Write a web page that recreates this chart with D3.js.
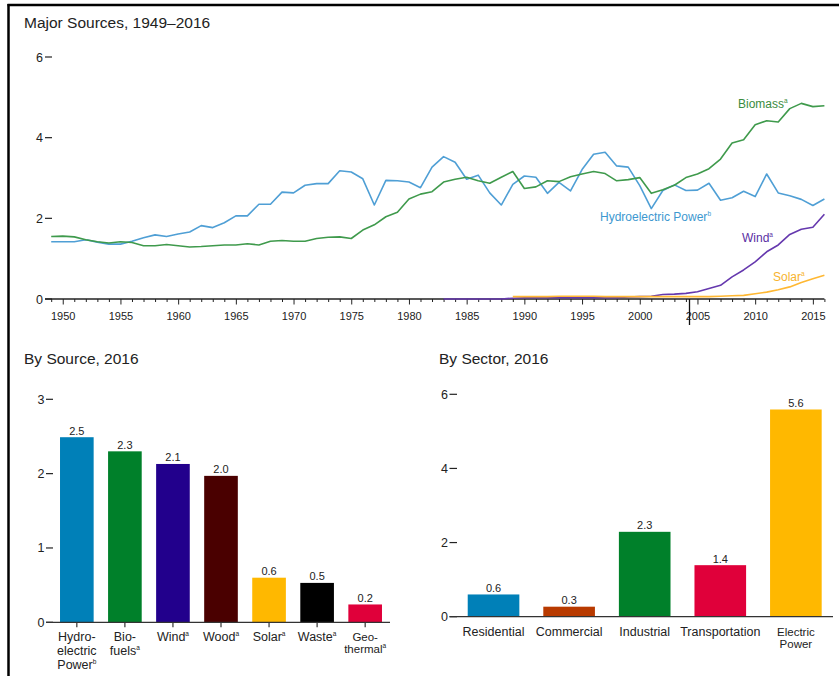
<!DOCTYPE html>
<html>
<head>
<meta charset="utf-8">
<script src="https://cdn.jsdelivr.net/npm/d3@7"></script>
<style>
  body { margin: 0; background: #fff; }
  text { font-family: "Liberation Sans", Arial, sans-serif; fill: #222; }
</style>
</head>
<body>
<div id="chart"></div>
<script>
// ---- data ----
var years = d3.range(1949, 2017);
var hydro = [1.42, 1.42, 1.42, 1.47, 1.41, 1.36, 1.36, 1.43, 1.52, 1.59,
             1.55, 1.61, 1.66, 1.82, 1.77, 1.89, 2.06, 2.06, 2.35, 2.35,
             2.65, 2.63, 2.82, 2.86, 2.86, 3.18, 3.15, 2.98, 2.33, 2.94,
             2.93, 2.90, 2.76, 3.27, 3.53, 3.39, 2.97, 3.07, 2.63, 2.33,
             2.84, 3.05, 3.02, 2.62, 2.89, 2.68, 3.21, 3.59, 3.64, 3.30,
             3.27, 2.81, 2.24, 2.69, 2.83, 2.69, 2.70, 2.87, 2.45, 2.51,
             2.67, 2.54, 3.10, 2.63, 2.56, 2.47, 2.32, 2.48];
var biomass = [1.55, 1.56, 1.54, 1.47, 1.42, 1.39, 1.42, 1.40, 1.32, 1.32,
               1.35, 1.32, 1.29, 1.30, 1.32, 1.34, 1.34, 1.37, 1.34, 1.43,
               1.45, 1.43, 1.43, 1.50, 1.53, 1.54, 1.50, 1.71, 1.84, 2.04,
               2.15, 2.48, 2.60, 2.66, 2.90, 2.97, 3.02, 2.93, 2.87, 3.02,
               3.16, 2.74, 2.78, 2.93, 2.91, 3.03, 3.10, 3.16, 3.11, 2.93,
               2.96, 3.01, 2.62, 2.71, 2.82, 3.01, 3.10, 3.23, 3.47, 3.87,
               3.95, 4.32, 4.42, 4.39, 4.72, 4.85, 4.77, 4.79];
var windYears = d3.range(1983, 2017);
var wind = [0.00, 0.00, 0.00, 0.00, 0.00, 0.00, 0.02, 0.03, 0.03, 0.03,
            0.03, 0.04, 0.03, 0.03, 0.03, 0.03, 0.05, 0.06, 0.07, 0.11,
            0.12, 0.14, 0.18, 0.26, 0.34, 0.55, 0.72, 0.92, 1.17, 1.34,
            1.60, 1.73, 1.78, 2.10];
var solarYears = d3.range(1989, 2017);
var solar = [0.06, 0.06, 0.06, 0.06, 0.07, 0.07, 0.07, 0.07, 0.06, 0.06,
             0.06, 0.06, 0.06, 0.06, 0.06, 0.06, 0.06, 0.06, 0.07, 0.08,
             0.09, 0.13, 0.17, 0.23, 0.30, 0.41, 0.50, 0.59];
var topTicks = [0, 2, 4, 6];

var sources = ["Hydro-|electric|Power", "Bio-|fuels", "Wind", "Wood", "Solar", "Waste", "Geo-|thermal"];
var sourceNotes = ["b", "a", "a", "a", "a", "a", "a"];
var sourceValues = [2.49, 2.30, 2.13, 1.97, 0.60, 0.53, 0.24];
var sourceColors = ["#0080b8", "#00802a", "#22008c", "#4a0000", "#ffb800", "#000000", "#e0003a"];
var sourceTicks = [0, 1, 2, 3];

var sectors = ["Residential", "Commercial", "Industrial", "Transportation", "Electric|Power"];
var sectorValues = [0.60, 0.27, 2.29, 1.39, 5.59];
var sectorColors = ["#0080b8", "#b83a00", "#00802a", "#e0003a", "#ffb800"];
var sectorTicks = [0, 2, 4, 6];

var W = 839, H = 676;
var svg = d3.select("#chart").append("svg").attr("width", W).attr("height", H);

// frame
svg.append("line").attr("x1", 7.5).attr("y1", 5).attr("x2", W).attr("y2", 5)
   .attr("stroke", "#000").attr("stroke-width", 2.5);
svg.append("line").attr("x1", 8.5).attr("y1", 4).attr("x2", 8.5).attr("y2", H)
   .attr("stroke", "#000").attr("stroke-width", 2.5);

function title(x, y, s) {
  svg.append("text").attr("x", x).attr("y", y).attr("font-size", "15.5px").text(s);
}

// y tick labels drawn as "6–"
function yTicks(scale, ticks, xText, x1, x2) {
  ticks.forEach(function(t) {
    svg.append("text").attr("x", xText).attr("y", scale(t) + 4.5)
       .attr("text-anchor", "end").attr("font-size", "12.5px").text(t);
    svg.append("line").attr("x1", x1).attr("x2", x2)
       .attr("y1", scale(t)).attr("y2", scale(t))
       .attr("stroke", "#222").attr("stroke-width", 1.2);
  });
}

// ---- top chart: major sources ----
title(24, 28, "Major Sources, 1949\u20132016");

var x = d3.scaleLinear().domain([1949, 2016]).range([51.2, 824.4]);
var y = d3.scaleLinear().domain([0, 6]).range([299, 57]);

yTicks(y, topTicks, 43, 45, 52);

var xAxis = d3.axisBottom(x)
  .tickValues(years)
  .tickSize(3)
  .tickFormat(function(d) { return d % 5 === 0 ? d : ""; });

var gx = svg.append("g").attr("transform", "translate(0," + y(0) + ")").call(xAxis);
gx.select(".domain").remove();
gx.selectAll(".tick line")
  .attr("stroke", "#222")
  .attr("y2", function(d) { return d % 5 === 0 ? 5.5 : 3; });
gx.selectAll(".tick text")
  .attr("y", 13)
  .attr("font-size", "11px")
  .attr("font-family", "Liberation Sans, Arial, sans-serif")
  .attr("fill", "#222");
svg.append("line").attr("x1", 45).attr("x2", x(2016))
   .attr("y1", y(0)).attr("y2", y(0))
   .attr("stroke", "#222").attr("stroke-width", 1.3);

function drawSeries(xs, vals, color) {
  var line = d3.line()
    .x(function(d, i) { return x(xs[i]); })
    .y(function(d) { return y(d); });
  svg.append("path").datum(vals)
     .attr("fill", "none").attr("stroke", color)
     .attr("stroke-width", 1.6).attr("stroke-linejoin", "round")
     .attr("d", line);
}

drawSeries(years, hydro, "#4f9fd5");
drawSeries(years, biomass, "#3f9a4c");
drawSeries(windYears, wind, "#6538ae");
drawSeries(solarYears, solar, "#ffb833");

function seriesLabel(xp, yp, s, note, color) {
  var t = svg.append("text").attr("x", xp).attr("y", yp)
    .attr("font-size", "12px").style("fill", color).text(s);
  t.append("tspan").attr("font-size", "6.5px").attr("dy", -5).style("fill", color).text(note);
}
seriesLabel(738, 108, "Biomass", "a", "#3a8c3e");
seriesLabel(600, 221, "Hydroelectric Power", "b", "#3d98d0");
seriesLabel(742, 242, "Wind", "a", "#5a2ea3");
seriesLabel(773, 281, "Solar", "a", "#f7b32e");

// stray cursor mark over the 2005 label
svg.append("line").attr("x1", 689.5).attr("x2", 689.5).attr("y1", 299).attr("y2", 325)
   .attr("stroke", "#111").attr("stroke-width", 1.3);

// ---- bar charts ----
function multiLabel(cx, y0, label, note, gap, size) {
  var lines = label.split("|");
  var t = svg.append("text").attr("text-anchor", "middle").attr("font-size", size);
  lines.forEach(function(l, i) {
    t.append("tspan").attr("x", cx).attr("y", y0 + i * gap).text(l);
    if (i === lines.length - 1 && note) {
      t.append("tspan").attr("font-size", "6.5px").attr("dy", -5).text(note);
    }
  });
}

// by source
title(24, 364, "By Source, 2016");
var xb = d3.scaleBand().domain(sources).range([48, 394]).paddingInner(0.3).paddingOuter(0.25);
var yb = d3.scaleLinear().domain([0, 3]).range([622.3, 399.3]);

yTicks(yb, sourceTicks, 44.5, 46, 53);

svg.selectAll("rect.src")
  .data(sources)
  .enter()
  .append("rect")
  .attr("class", "src")
  .attr("x", function(d) { return xb(d); })
  .attr("y", function(d, i) { return yb(sourceValues[i]); })
  .attr("width", xb.bandwidth())
  .attr("height", function(d, i) { return yb(0) - yb(sourceValues[i]); })
  .attr("fill", function(d, i) { return sourceColors[i]; });

svg.append("line").attr("x1", 46).attr("x2", 390)
   .attr("y1", yb(0)).attr("y2", yb(0))
   .attr("stroke", "#333").attr("stroke-width", 1.3);

sources.forEach(function(s, i) {
  var cx = xb(s) + xb.bandwidth() / 2;
  svg.append("line").attr("x1", cx).attr("x2", cx)
     .attr("y1", yb(0)).attr("y2", yb(0) + 5)
     .attr("stroke", "#333").attr("stroke-width", 1.2);
  svg.append("text").attr("x", cx).attr("y", yb(sourceValues[i]) - 2.5)
     .attr("text-anchor", "middle").attr("font-size", "11px")
     .text(d3.format(".1f")(sourceValues[i]));
  var gap = s === "Geo-|thermal" ? 11.5 : 14;
  var size = s === "Geo-|thermal" ? "11.5px" : "12.5px";
  multiLabel(cx, 641, s, sourceNotes[i], gap, size);
});

// by sector
title(439, 364, "By Sector, 2016");
var xs = d3.scaleBand().domain(sectors).range([452.6, 836.8]).paddingInner(0.317).paddingOuter(0.2);
var ys = d3.scaleLinear().domain([0, 6]).range([616.7, 394.3]);

yTicks(ys, sectorTicks, 448, 449.5, 457);

svg.selectAll("rect.sec")
  .data(sectors)
  .enter()
  .append("rect")
  .attr("class", "sec")
  .attr("x", function(d) { return xs(d); })
  .attr("y", function(d, i) { return ys(sectorValues[i]); })
  .attr("width", xs.bandwidth())
  .attr("height", function(d, i) { return ys(0) - ys(sectorValues[i]); })
  .attr("fill", function(d, i) { return sectorColors[i]; });

svg.append("line").attr("x1", 449.5).attr("x2", 833)
   .attr("y1", ys(0)).attr("y2", ys(0))
   .attr("stroke", "#333").attr("stroke-width", 1.3);

sectors.forEach(function(s, i) {
  var cx = xs(s) + xs.bandwidth() / 2;
  svg.append("text").attr("x", cx).attr("y", ys(sectorValues[i]) - 2.5)
     .attr("text-anchor", "middle").attr("font-size", "11px")
     .text(d3.format(".1f")(sectorValues[i]));
  var size = s === "Electric|Power" ? "11.5px" : "12.5px";
  multiLabel(cx, 636, s, null, 11.5, size);
});
</script>
</body>
</html>
